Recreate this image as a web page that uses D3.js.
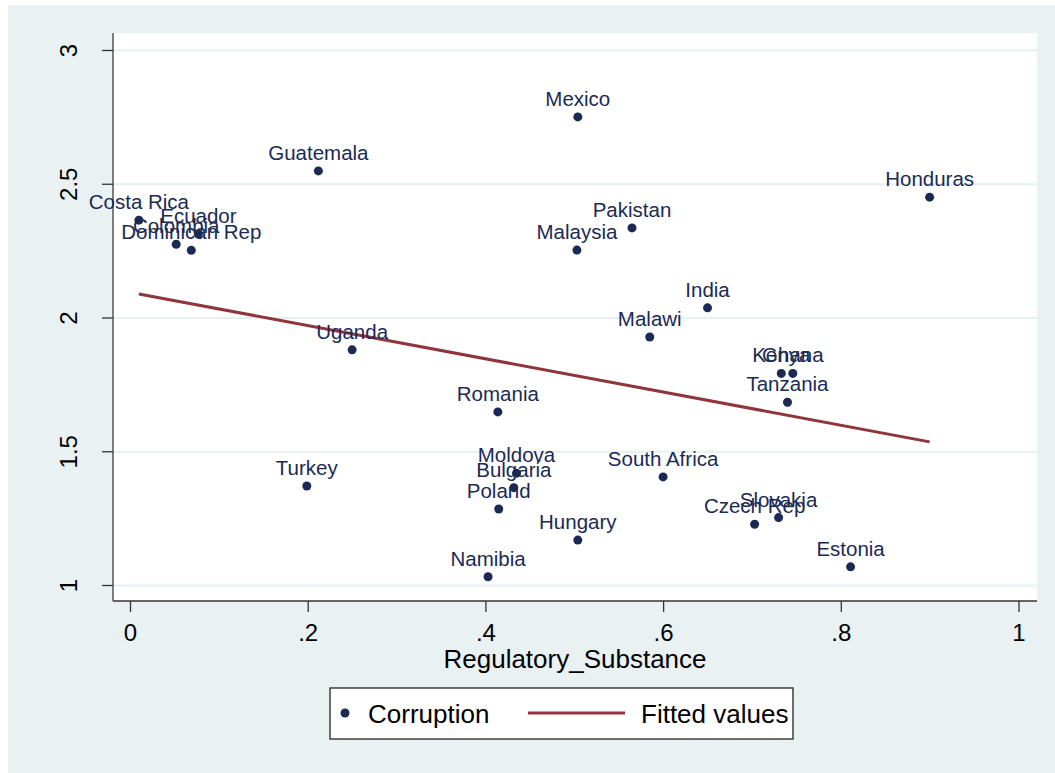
<!DOCTYPE html>
<html>
<head>
<meta charset="utf-8">
<script src="https://cdn.jsdelivr.net/npm/d3@7"></script>
<style>
  body { margin: 0; background: #fff; }
  svg text { font-family: "Liberation Sans", Arial, sans-serif; }
</style>
</head>
<body>
<svg id="chart" width="1055" height="773"></svg>
<script>
// values
let countries = ["Mexico", "Guatemala", "Costa Rica", "Ecuador", "Colombia", "Dominican Rep",
    "Honduras", "Pakistan", "Malaysia", "India", "Malawi", "Uganda", "Kenya", "Ghana",
    "Tanzania", "Romania", "South Africa", "Turkey", "Moldova", "Bulgaria", "Poland",
    "Namibia", "Hungary", "Czech Rep", "Slovakia", "Estonia"];
let regSubstance = [0.504, 0.212, 0.010, 0.077, 0.052, 0.069,
    0.900, 0.565, 0.503, 0.650, 0.585, 0.250, 0.733, 0.746,
    0.740, 0.414, 0.600, 0.199, 0.435, 0.432, 0.415,
    0.403, 0.504, 0.703, 0.730, 0.811];
let corruption = [2.750, 2.548, 2.364, 2.312, 2.274, 2.251,
    2.450, 2.335, 2.252, 2.036, 1.927, 1.879, 1.791, 1.791,
    1.683, 1.647, 1.404, 1.370, 1.418, 1.364, 1.284,
    1.031, 1.168, 1.227, 1.252, 1.068];
let fitX = [0.010, 0.900];
let fitY = [2.088, 1.535];
let xTicks = [0, 0.2, 0.4, 0.6, 0.8, 1];
let yTicks = [1, 1.5, 2, 2.5, 3];

let navy = "#1b2a55", maroon = "#90353b", bg = "#e9f1f3";

let svg = d3.select("#chart");

// graph region + plot region
svg.append("rect").attr("x", 8).attr("y", 5).attr("width", 1047).attr("height", 768).attr("fill", bg);
let plot = { left: 113, top: 33, right: 1037, bottom: 601 };
svg.append("rect")
    .attr("x", plot.left).attr("y", plot.top)
    .attr("width", plot.right - plot.left).attr("height", plot.bottom - plot.top)
    .attr("fill", "#fff");

let x = d3.scaleLinear().domain([0, 1]).range([130, 1018.5]);
let y = d3.scaleLinear().domain([1, 3]).range([585, 50]);

// gridlines
svg.append("g")
    .attr("class", "grid")
    .attr("transform", "translate(" + plot.left + ",0)")
    .call(d3.axisRight(y).tickValues(yTicks).tickSize(plot.right - plot.left).tickFormat(""))
    .call(g => g.select(".domain").remove())
    .selectAll("line").attr("stroke", "#e6eff1").attr("stroke-width", 2);

// y axis
let yAxis = svg.append("g")
    .attr("transform", "translate(" + plot.left + ",0)")
    .call(d3.axisLeft(y).tickValues(yTicks).tickSize(11).tickSizeOuter(0).tickFormat(d3.format("")));
yAxis.select(".domain").attr("d", "M0," + plot.top + "V" + plot.bottom).attr("stroke", "#555").attr("stroke-width", 1.5);
yAxis.selectAll(".tick line").attr("stroke", "#333").attr("stroke-width", 1.3);
yAxis.selectAll(".tick text")
    .attr("x", null).attr("dy", null)
    .attr("fill", "#000").attr("font-size", 24)
    .attr("text-anchor", "middle")
    .attr("transform", "translate(-36,0) rotate(-90)");

// x axis
let xAxis = svg.append("g")
    .attr("transform", "translate(0," + plot.bottom + ")")
    .call(d3.axisBottom(x).tickValues(xTicks).tickSize(11).tickSizeOuter(0)
        .tickFormat(d => d == 0 || d == 1 ? String(d) : d3.format(".1f")(d).replace(/^0/, "")));
xAxis.select(".domain").attr("d", "M" + plot.left + ",0H" + plot.right).attr("stroke", "#333").attr("stroke-width", 1.5);
xAxis.selectAll(".tick line").attr("stroke", "#333").attr("stroke-width", 1.3);
xAxis.selectAll(".tick text")
    .attr("y", 40).attr("dy", null)
    .attr("fill", "#000").attr("font-size", 24);

svg.append("text")
    .attr("x", (plot.left + plot.right) / 2).attr("y", 668)
    .attr("text-anchor", "middle").attr("font-size", 26)
    .text("Regulatory_Substance");

// fitted line
let line = d3.line()
    .x(function (d, i) { return x(d); })
    .y(function (d, i) { return y(fitY[i]); });
svg.append("path")
    .datum(fitX)
    .attr("d", line)
    .attr("fill", "none").attr("stroke", maroon).attr("stroke-width", 3);

// dots and labels
let pts = svg.append("g").attr("class", "points");
pts.selectAll("circle")
    .data(countries)
    .enter().append("circle")
    .attr("r", 4.5)
    .attr("cx", (d, i) => x(regSubstance[i]))
    .attr("cy", (d, i) => y(corruption[i]))
    .attr("fill", navy);
pts.selectAll("text")
    .data(countries)
    .enter().append("text")
    .attr("x", (d, i) => x(regSubstance[i]))
    .attr("y", (d, i) => y(corruption[i]) - 11)
    .attr("text-anchor", "middle")
    .attr("font-size", 20.5)
    .attr("fill", navy)
    .text(d => d);

// legend
let leg = svg.append("g");
leg.append("rect").attr("x", 330).attr("y", 688).attr("width", 463).attr("height", 51)
    .attr("fill", "#fff").attr("stroke", "#222").attr("stroke-width", 1.3);
leg.append("circle").attr("cx", 345).attr("cy", 713).attr("r", 4.5).attr("fill", navy);
leg.append("text").attr("x", 368).attr("y", 723).attr("font-size", 26).text("Corruption");
leg.append("line").attr("x1", 528).attr("x2", 625).attr("y1", 713).attr("y2", 713)
    .attr("stroke", maroon).attr("stroke-width", 3);
leg.append("text").attr("x", 641).attr("y", 723).attr("font-size", 26).text("Fitted values");
</script>
</body>
</html>
